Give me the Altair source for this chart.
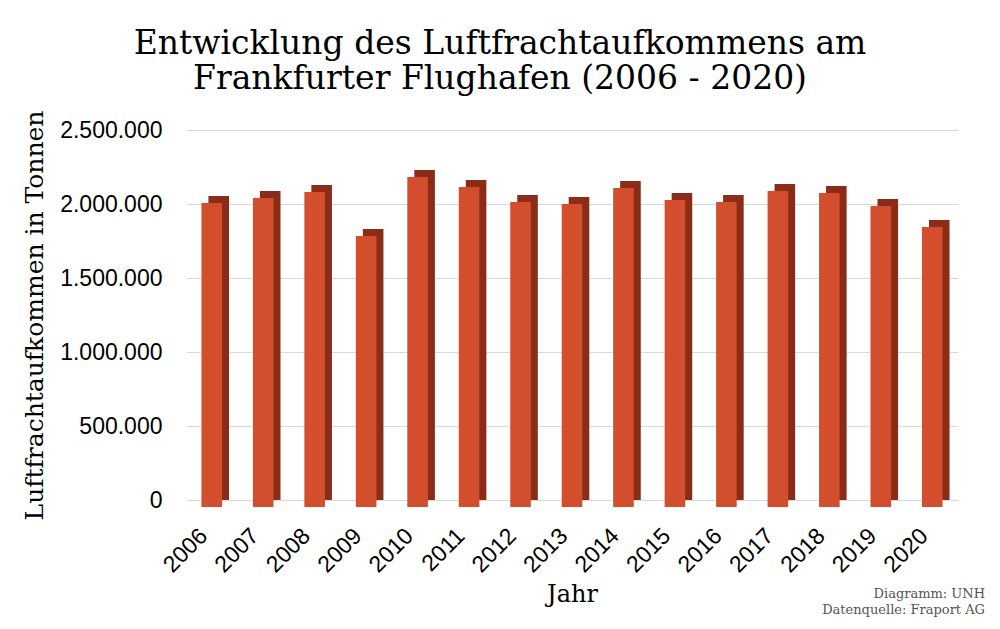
import altair as alt
import pandas as pd

years = ["2006", "2007", "2008", "2009", "2010", "2011", "2012", "2013",
         "2014", "2015", "2016", "2017", "2018", "2019", "2020"]
tonnes = [2054000, 2088000, 2128000, 1831000, 2230000, 2162000, 2061000, 2047000,
          2155000, 2074000, 2061000, 2135000, 2122000, 2034000, 1892000]
y_ticks = [0, 500000, 1000000, 1500000, 2000000, 2500000]

df = pd.DataFrame({"Jahr": years, "Tonnen": tonnes})

SERIF = "DejaVu Serif"
SANS = "Liberation Sans"

x_enc = alt.X("Jahr:N", title="Jahr",
              scale=alt.Scale(paddingInner=0.6, paddingOuter=0.3),
              axis=alt.Axis(labelAngle=-45, labelAlign="right", labelBaseline="middle",
                            labelFont=SANS, labelFontSize=23, grid=False,
                            labelColor="#000000", ticks=False, domain=False,
                            labelPadding=32, labelOffset=-8,
                            titleFont=SERIF, titleFontSize=24, titleFontWeight="normal",
                            titleColor="#000000", titlePadding=6))
y_enc = alt.Y("Tonnen:Q", title="Luftfrachtaufkommen in Tonnen",
              scale=alt.Scale(domain=[0, 2500000]),
              axis=alt.Axis(values=y_ticks, labelFont=SANS, labelFontSize=23,
                            labelColor="#000000", ticks=False, domain=False,
                            labelPadding=24, gridColor="#d9d9d9",
                            labelExpr="replace(format(datum.value, ','), regexp(',', 'g'), '.')",
                            titleFont=SERIF, titleFontSize=25, titleFontWeight="normal",
                            titleColor="#000000", titlePadding=12))

base = alt.Chart(df)

side = base.mark_bar(color="#8b2c18", xOffset=7, x2Offset=7).encode(x=x_enc, y=y_enc)
front = base.mark_bar(color="#d24e2c", yOffset=7, y2Offset=7).encode(x=x_enc, y=y_enc)

credits = pd.DataFrame({"t": ["Diagramm: UNH", "Datenquelle: Fraport AG"],
                        "yy": [468, 484]})
cred = alt.Chart(credits).mark_text(font=SERIF, fontSize=13, color="#555555",
                                    align="right", baseline="alphabetic").encode(
    text="t:N", x=alt.value(799), y=alt.Y("yy:Q", scale=None))

chart = alt.layer(side, front, cred).properties(
    width=772, height=370,
    background="white",
    autosize=alt.AutoSizeParams(type="none"),
    padding={"left": 178, "top": 122, "right": 30, "bottom": 121},
    title=alt.Title(text=["Entwicklung des Luftfrachtaufkommens am",
                          "Frankfurter Flughafen (2006 - 2020)"],
                    font=SERIF, fontSize=33, fontWeight="normal", color="#000000",
                    anchor="middle", dx=-72, offset=14, lineHeight=35),
).configure_view(stroke=None, strokeWidth=0)

chart.save("out.html", embed_options={"renderer": "svg", "actions": False})
